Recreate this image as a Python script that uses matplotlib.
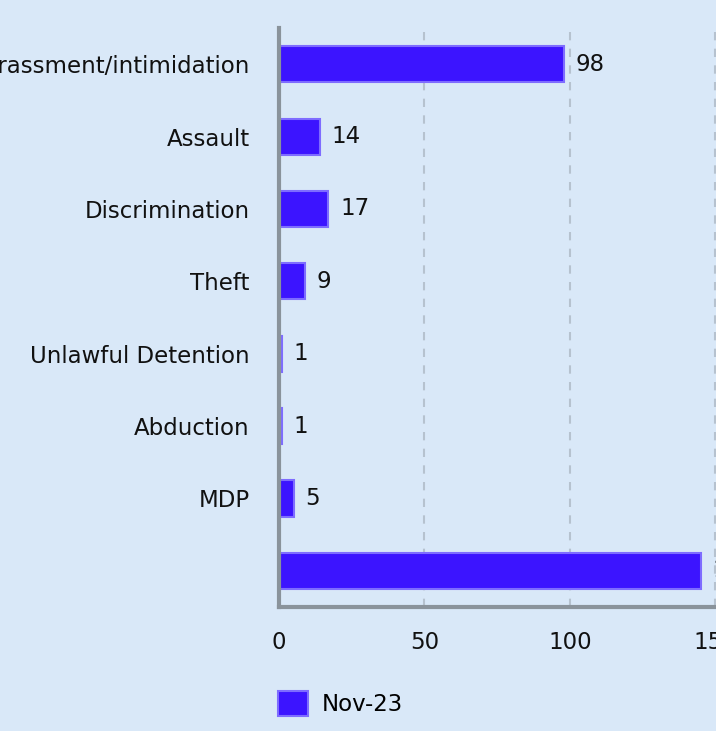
import matplotlib.pyplot as plt

categories = ['Harassment/intimidation', 'Assault', 'Discrimination', 'Theft',
              'Unlawful Detention', 'Abduction', 'MDP', '']
values = [98, 14, 17, 9, 1, 1, 5, 145]
series_name = 'Nov-23'

bg = '#d9e8f8'
bar_col = '#3c14ff'
fs = 16.5

fig = plt.figure(figsize=(7.16, 7.31), dpi=100, facecolor=bg)
# axes run past the right edge of the picture, like the cropped original
ax = fig.add_axes([0.3897, 0.1696, 0.650, 0.792], facecolor=bg)

y = list(range(len(categories)))
ax.barh(y, values, height=0.5, color=bar_col, edgecolor='#7e6cff',
        linewidth=1.5, label=series_name, zorder=2)
for yi, v in zip(y, values):
    ax.text(v + 4, yi, str(v), va='center', ha='left', fontsize=fs, color='#111111')

ax.set_yticks(y)
ax.set_yticklabels(categories)
ax.set_ylim(len(categories) - 0.5, -0.5)
ax.set_xlim(0, 160)
ax.set_xticks([0, 50, 100, 150])

ax.xaxis.grid(True, linestyle=(0, (4, 4)), color='#b6c2cf', linewidth=1.5, zorder=0)
ax.set_axisbelow(True)
for s in ['top', 'right']:
    ax.spines[s].set_visible(False)
for s in ['left', 'bottom']:
    ax.spines[s].set_color('#8a939b')
    ax.spines[s].set_linewidth(3)
    ax.spines[s].set_zorder(4)

ax.tick_params(axis='y', length=0, pad=21, labelsize=fs, labelcolor='#111111')
ax.tick_params(axis='x', length=0, pad=17, labelsize=fs, labelcolor='#111111')

fig.legend(loc='lower left', bbox_to_anchor=(0.36, -0.008), frameon=False,
           fontsize=fs, handlelength=1.3, handleheight=1.3, handletextpad=0.6)

fig.savefig('out.png', dpi=100, facecolor=bg)
